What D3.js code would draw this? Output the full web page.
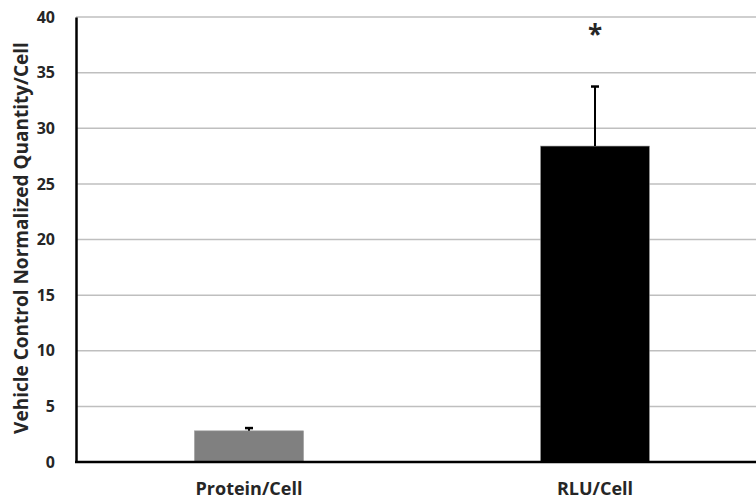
<!DOCTYPE html>
<html>
<head>
<meta charset="utf-8">
<script src="https://cdn.jsdelivr.net/npm/d3@7"></script>
<style>
    body { margin: 0; background: #fff; }
    text { font-family: "Open Sans", "Noto Sans", sans-serif; font-weight: bold; }
</style>
</head>
<body>
<script>
// Chart data
const categories = ["Protein/Cell", "RLU/Cell"];
const values = [2.8, 28.4];
const errors = [0.25, 5.35];
const barColors = ["#808080", "#000000"];
const significant = [false, true];
const yTicks = [0, 5, 10, 15, 20, 25, 30, 35, 40];

const width = 756;
const height = 500;
const margin = {top: 17, right: -12, bottom: 38, left: 76};

const svg = d3.select("body").append("svg")
    .attr("width", width)
    .attr("height", height);

// Scales
const x = d3.scaleBand()
    .domain(categories)
    .range([margin.left, width - margin.right])
    .paddingInner(0.685)
    .paddingOuter(0.3425);

const y = d3.scaleLinear()
    .domain([0, 40])
    .range([height - margin.bottom, margin.top]);

// Gridlines
svg.append("g")
    .selectAll("line")
    .data(yTicks.slice(1))
    .join("line")
    .attr("x1", margin.left)
    .attr("x2", width)
    .attr("y1", d => y(d))
    .attr("y2", d => y(d))
    .attr("stroke", "#bfbfbf")
    .attr("stroke-width", 1.5);

// Y axis
const yAxis = svg.append("g")
    .attr("transform", `translate(${margin.left},0)`)
    .call(d3.axisLeft(y).tickValues(yTicks).tickSize(0).tickPadding(21));
yAxis.select(".domain").attr("stroke", "#000").attr("stroke-width", 2.5);
yAxis.selectAll("text")
    .attr("fill", "#262626")
    .style("font-size", "16px");

// Bars
svg.append("g")
    .selectAll("rect")
    .data(categories)
    .join("rect")
    .attr("x", d => x(d))
    .attr("width", x.bandwidth())
    .attr("y", (d, i) => y(values[i]))
    .attr("height", (d, i) => y(0) - y(values[i]))
    .attr("fill", (d, i) => barColors[i])
    .attr("stroke", "#9a9a9a")
    .attr("stroke-width", 0.6);

// Error bars (upper only)
const err = svg.append("g").attr("stroke", "#000").attr("stroke-width", 2);
err.selectAll("line.stem")
    .data(categories)
    .join("line")
    .attr("class", "stem")
    .attr("x1", d => x(d) + x.bandwidth() / 2)
    .attr("x2", d => x(d) + x.bandwidth() / 2)
    .attr("y1", (d, i) => y(values[i]))
    .attr("y2", (d, i) => y(values[i] + errors[i]));
err.selectAll("line.cap")
    .data(categories)
    .join("line")
    .attr("class", "cap")
    .attr("x1", d => x(d) + x.bandwidth() / 2 - 4)
    .attr("x2", d => x(d) + x.bandwidth() / 2 + 4)
    .attr("y1", (d, i) => y(values[i] + errors[i]))
    .attr("y2", (d, i) => y(values[i] + errors[i]))
    .attr("stroke-width", 2.5);

// Significance marker
svg.append("g")
    .selectAll("text")
    .data(categories.filter((d, i) => significant[i]))
    .join("text")
    .attr("x", d => x(d) + x.bandwidth() / 2)
    .attr("y", y(37.6))
    .attr("text-anchor", "middle")
    .attr("fill", "#262626")
    .style("font-size", "26px")
    .text("*");

// X axis line
svg.append("line")
    .attr("x1", margin.left - 1)
    .attr("x2", width)
    .attr("y1", y(0))
    .attr("y2", y(0))
    .attr("stroke", "#000")
    .attr("stroke-width", 2.5);

// X labels
svg.append("g")
    .selectAll("text")
    .data(categories)
    .join("text")
    .attr("x", d => x(d) + x.bandwidth() / 2)
    .attr("y", 495)
    .attr("text-anchor", "middle")
    .attr("fill", "#262626")
    .style("font-size", "18px")
    .text(d => d);

// Y title
svg.append("text")
    .attr("transform", `translate(28,238) rotate(-90)`)
    .attr("text-anchor", "middle")
    .attr("fill", "#262626")
    .style("font-size", "19px")
    .text("Vehicle Control Normalized Quantity/Cell");
</script>
</body>
</html>
